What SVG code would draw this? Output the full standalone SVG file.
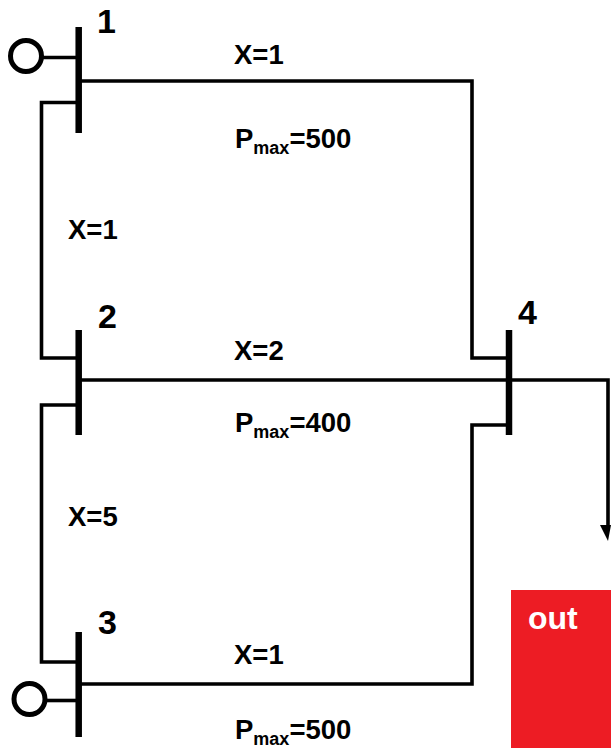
<svg xmlns="http://www.w3.org/2000/svg" width="611" height="748" viewBox="0 0 611 748">
<style>
text{font-family:"Liberation Sans",Arial,sans-serif;font-weight:bold;fill:#000}
.n{font-size:34px}
.l{font-size:27.500px}
.s{font-size:18px}
.w{fill:none;stroke:#000;stroke-width:3.6}
.b{fill:none;stroke:#000;stroke-width:6.500}
.g{fill:none;stroke:#000;stroke-width:5}
</style>
<rect width="611" height="748" fill="#fff"/>
<g id="out"><rect x="511" y="590" width="100" height="158" fill="#ed1c24"/><text x="528" y="629" style="fill:#fff;font-size:32px">out</text></g>
<g id="connectors">
<path class="w" d="M78 81H472V358H509"/>
<path class="w" d="M78 102.500H41.500V358H78"/>
<path class="w" d="M78 380H608V526"/>
<path class="w" d="M78 405H41.500V662H78"/>
<path class="w" d="M509 425H472V684H78"/>
<path class="w" d="M43 57.500H78"/>
<path class="w" d="M46 700.500H78"/>
<polygon points="600,525 611,525 608,541" fill="#000"/>
</g>
<g id="bus1"><path class="b" d="M78.700 27V133"/><circle class="g" cx="26" cy="56" r="15.500"/><text class="n" x="97" y="33">1</text></g>
<g id="bus2"><path class="b" d="M78.700 330V435"/><text class="n" x="98" y="328">2</text></g>
<g id="bus3"><path class="b" d="M78.700 632V737"/><circle class="g" cx="29.500" cy="699" r="15.500"/><text class="n" x="98" y="634">3</text></g>
<g id="bus4"><path class="b" d="M509 330V435"/><text class="n" x="518" y="324">4</text></g>
<g id="labels">
<text class="l" x="234" y="64">X=1</text>
<text class="l" x="235" y="148">P<tspan class="s" dy="6">max</tspan><tspan dy="-6">=500</tspan></text>
<text class="l" x="68" y="239">X=1</text>
<text class="l" x="234" y="360">X=2</text>
<text class="l" x="235" y="432">P<tspan class="s" dy="6">max</tspan><tspan dy="-6">=400</tspan></text>
<text class="l" x="68" y="526">X=5</text>
<text class="l" x="234" y="664">X=1</text>
<text class="l" x="235" y="739">P<tspan class="s" dy="6">max</tspan><tspan dy="-6">=500</tspan></text>
</g>
</svg>
